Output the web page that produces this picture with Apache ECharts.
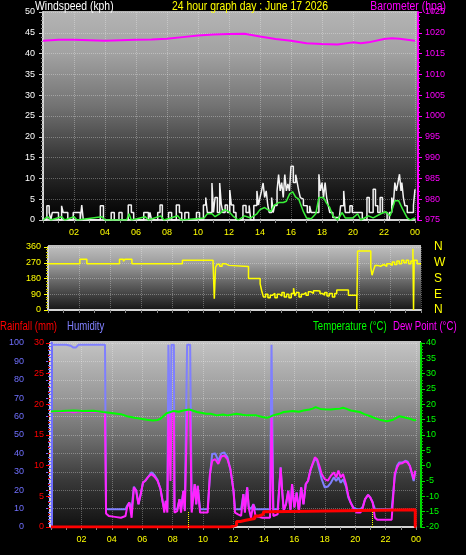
<!DOCTYPE html>
<html><head><meta charset="utf-8">
<script src="https://cdn.jsdelivr.net/npm/echarts@6/dist/echarts.min.js"></script>
<style>html,body{margin:0;padding:0;background:#000;}#c{width:466px;height:555px;}</style>
</head><body><div id="c"></div>
<script>
// ---------- tick labels ----------
const xLabels = ['02','04','06','08','10','12','14','16','18','20','22','00'];
const compassLabels = ['N','E','S','W','N'];

// ---------- top panel: wind (kph) & barometer (hPa) ----------
const windGust = [[0,0],[0.25,3.4],[0.4,1.8],[0.5,0],[0.6,1.8],[1.0,0],[1.2,3.4],[1.3,1.8],[1.6,0],[1.95,1.8],[2.4,0],[2.5,3.6],[2.6,0],[3.7,3.4],[3.9,0],[4.4,1.8],[4.6,0],[4.9,1.8],[5.1,0],[5.5,3.6],[5.7,1.8],[5.85,0],[6.5,1.8],[6.8,0],[6.9,1.8],[7.0,0],[7.4,1.8],[7.55,3.6],[7.7,0],[8.1,1.8],[8.3,0],[8.6,3.6],[8.8,1.8],[8.95,0],[9.15,1.8],[9.4,0],[9.9,1.8],[10.1,0],[10.35,3.6],[10.5,5.4],[10.6,1.8],[10.9,8.9],[11.0,1.8],[11.1,5.4],[11.25,1.8],[11.4,8.9],[11.5,3.8],[11.6,1.8],[11.75,3.6],[11.9,1.8],[12.05,7.2],[12.15,3.6],[12.3,1.8],[12.45,0],[12.9,3.5],[13.1,1.8],[13.3,3.5],[13.4,0],[13.6,3.5],[13.8,7],[13.9,3.6],[14.0,5.4],[14.1,7],[14.2,8.9],[14.3,5.4],[14.4,7],[14.5,3.6],[14.6,1.8],[14.75,5.4],[14.85,1.8],[14.95,3.5],[15.1,7],[15.2,10.9],[15.3,7],[15.4,9],[15.5,5.4],[15.6,10.9],[15.7,7],[15.8,8.7],[15.9,7],[16.0,12.9],[16.15,9],[16.3,10.9],[16.4,9],[16.5,7],[16.6,5.4],[16.7,5],[16.8,3.5],[16.9,3.4],[17.05,1.8],[17.2,3.4],[17.3,1.8],[17.8,11],[17.9,7],[18.0,9],[18.1,5.4],[18.2,9],[18.3,5.4],[18.4,3.5],[18.5,1.8],[18.7,0.6],[19.1,0],[19.2,3.4],[19.4,7],[19.5,1.8],[19.8,3.4],[19.95,1.8],[20.6,0],[20.9,5.4],[21.05,1.8],[21.3,7.4],[21.45,3.4],[21.6,1.8],[21.75,5.4],[21.9,1.8],[22.2,0],[22.35,1.8],[22.5,5.4],[22.6,3.5],[22.7,9],[22.8,7],[22.9,9],[23.0,11],[23.1,7],[23.15,9],[23.25,5.4],[23.35,3.4],[23.5,1.8],[23.9,3.5],[24.0,7.4]];
const windAvg = [[0,0],[0.3,0.8],[0.5,0],[1.2,0.8],[1.4,0],[2.0,0.8],[2.2,0],[3.8,0.8],[4.0,0],[5.4,0],[5.55,1.5],[5.7,0],[6.6,0.8],[6.8,0],[7.6,1.0],[7.8,0],[8.7,1.0],[8.9,0],[10.4,0.5],[10.6,1.5],[10.9,1.5],[11.1,0.8],[11.4,1.5],[11.7,2.5],[12.0,2],[12.3,0.8],[12.6,0],[13.0,1],[13.4,0.5],[13.8,1.5],[14.0,2.5],[14.3,3],[14.5,2.5],[14.7,2],[14.9,3.5],[15.2,4.2],[15.5,4.2],[15.7,4.5],[15.9,6.2],[16.1,6.8],[16.3,5.5],[16.5,5],[16.6,4.6],[16.8,2],[17.0,0.5],[17.3,0.3],[17.6,1.5],[17.8,5.4],[18.1,5.4],[18.3,4],[18.5,3],[18.7,1],[19.0,0],[19.3,1.8],[19.5,0.5],[20.0,0.5],[20.3,1.5],[20.5,0],[21.0,1],[21.3,0.5],[21.8,1.5],[22.1,2],[22.4,1],[22.7,4.6],[22.95,4.6],[23.2,2.6],[23.5,0.5],[23.7,0],[24.0,0.5]];
const barometer = [[0,1018.1],[1,1018.3],[2,1018.3],[3,1018.2],[4,1018.1],[5,1018.2],[6,1018.3],[7,1018.4],[8,1018.55],[9,1018.96],[10,1019.35],[11,1019.6],[12,1019.7],[13,1019.75],[14,1019.1],[15,1018.5],[16,1018.1],[17,1017.5],[18,1017.3],[19,1017.2],[20,1017.7],[20.5,1017.5],[21,1017.7],[22,1018.5],[22.5,1018.7],[23,1018.55],[24,1018.1]];

// ---------- middle panel: wind direction (deg) ----------
const windDir = [[0,265],[2.05,290],[2.5,265],[4.6,290],[4.85,278],[4.95,290],[5.4,265],[8.65,285],[10.62,272],[10.7,65],[10.78,245],[10.9,262],[11.05,250],[11.2,265],[11.4,255],[11.65,248],[12.9,180],[13.65,150],[13.75,110],[13.86,75],[14.0,90],[14.15,70],[14.3,85],[14.45,95],[14.6,70],[14.75,90],[14.9,80],[15.05,100],[15.2,75],[15.35,90],[15.5,70],[15.65,95],[15.8,125],[15.88,80],[16.0,100],[16.15,75],[16.3,90],[16.45,100],[16.6,85],[16.75,105],[16.9,95],[17.08,110],[17.3,108],[17.5,95],[17.65,85],[17.8,100],[17.95,80],[18.1,95],[18.3,75],[18.45,95],[18.58,114],[19.33,85],[19.87,0],[19.92,337],[20.77,245],[20.85,199],[20.95,230],[21.05,255],[21.2,250],[21.4,260],[21.6,250],[21.8,265],[22.0,255],[22.15,275],[22.3,260],[22.45,280],[22.6,265],[22.75,285],[22.9,270],[23.05,285],[23.2,265],[23.35,280],[23.48,350],[23.52,0],[23.56,285],[23.75,265],[24,265]];

// ---------- bottom panel ----------
const temperature = [[0,17.7],[0.7,17.8],[1.5,18.0],[2.1,17.8],[2.8,17.9],[3.4,17.5],[4.1,17.1],[4.6,16.8],[5.0,16.1],[5.5,15.6],[5.9,15.3],[6.3,15.0],[6.7,14.75],[7.0,14.9],[7.2,15.3],[7.4,16.2],[7.6,17.1],[8.05,17.8],[8.4,17.6],[8.7,18.0],[9.1,18.3],[9.6,17.5],[10.2,16.9],[10.5,16.9],[10.9,16.4],[11.3,16.7],[11.6,16.4],[12.2,16.9],[12.6,16.6],[12.9,16.4],[13.5,16.4],[13.9,15.9],[14.2,15.6],[14.4,15.9],[14.6,16.4],[15.0,16.9],[15.3,17.5],[15.9,17.8],[16.3,17.6],[16.6,18.0],[17.0,18.3],[17.2,18.6],[17.4,19.1],[17.7,18.5],[18.0,18.4],[18.4,18.3],[18.7,18.5],[19.0,18.6],[19.2,18.9],[19.4,18.6],[19.7,18.0],[20.3,17.5],[20.6,16.8],[21.0,16.1],[21.3,15.5],[21.6,15.0],[22.1,14.5],[22.5,15.0],[22.9,16.1],[23.2,15.8],[23.6,15.3],[23.9,14.75],[24.0,15.0]];
const dewPoint = [[0,17.5],[0.5,17.6],[1.0,17.7],[1.3,17.6],[1.45,17.4],[1.65,17.5],[1.8,17.7],[2.5,17.6],[3.0,17.6],[3.55,17.3],[3.62,-15.6],[3.8,-16.4],[4.2,-16.7],[4.6,-17.0],[4.9,-16.4],[5.0,-13.7],[5.15,-12.0],[5.3,-17.0],[5.45,-7.1],[5.6,-8.2],[5.75,-12.6],[5.9,-9.3],[6.05,-5.5],[6.2,-4.9],[6.4,-3.6],[6.6,-2.7],[6.8,-3.6],[7.0,-4.9],[7.2,-7.6],[7.35,-12.0],[7.45,-15.3],[7.55,-11.5],[7.65,-15.3],[7.72,16.8],[7.8,16.9],[7.86,-5],[7.92,17.2],[8.08,17.6],[8.12,-15.3],[8.3,-14.8],[8.45,-10.9],[8.55,-15.3],[8.7,-8.2],[8.8,-14.8],[8.95,18.1],[9.15,18.2],[9.25,-15.3],[9.45,-6.0],[9.55,-12.6],[9.65,-6.6],[9.8,-15.3],[10.3,-15.3],[10.45,-2.7],[10.6,1.6],[10.8,2.1],[11.0,0.6],[11.2,3.0],[11.4,3.3],[11.6,2.1],[11.8,-1.1],[12.0,-8.2],[12.1,-15.3],[12.3,-15.9],[12.5,-16.4],[12.65,-9.3],[12.75,-15.3],[12.9,-7.1],[13.0,-13.7],[13.15,-17.0],[13.3,-12.6],[13.45,-16.4],[13.9,-17.0],[14.4,-17.0],[14.5,16.2],[14.58,16.3],[14.62,-16.4],[14.9,-15.9],[15.1,-0.6],[15.2,-8.2],[15.3,-14.8],[15.45,-12.6],[15.6,-8.2],[15.75,-14.8],[15.85,-6.0],[16.0,-13.7],[16.15,-8.8],[16.3,-15.3],[16.45,-7.1],[16.6,-12.6],[16.75,-6.0],[16.9,-4.9],[17.05,-1.6],[17.2,0.6],[17.35,2.7],[17.5,2.1],[17.65,-0.1],[17.8,-2.7],[18.0,-4.4],[18.2,-4.9],[18.4,-3.3],[18.6,-2.2],[18.75,-3.8],[18.9,-1.6],[19.05,-3.8],[19.2,-2.7],[19.4,-6.0],[19.55,-9.8],[19.7,-12.0],[19.9,-14.2],[20.1,-15.3],[20.35,-15.3],[20.5,-13.7],[20.65,-10.9],[20.85,-9.5],[21.0,-10.4],[21.15,-12.0],[21.3,-17.0],[21.45,-17.6],[22.4,-17.6],[22.6,-2.7],[22.75,-0.6],[22.9,0.6],[23.1,0.8],[23.3,1.4],[23.45,1.0],[23.6,-0.1],[23.75,-2.7],[23.85,-4.4],[23.95,-1.6]];
const humidity = [[0,99],[0.5,99],[1.0,99],[1.3,98.5],[1.45,97.6],[1.65,97.6],[1.8,99],[2.5,99],[3.0,99],[3.55,99],[3.62,9.8],[3.8,9.7],[4.2,9.7],[4.6,9.7],[4.9,9.7],[5.0,11.5],[5.15,13.3],[5.3,9.7],[5.45,21.9],[5.6,20],[5.75,12.4],[5.9,17.9],[6.05,24.2],[6.2,25.1],[6.4,27.3],[6.6,29.7],[6.8,28.2],[7.0,25.6],[7.2,20.6],[7.35,13.3],[7.45,9.7],[7.55,14.2],[7.65,9.7],[7.72,99],[7.8,99],[7.86,40],[7.92,99],[8.08,99],[8.12,9.7],[8.3,9.7],[8.45,15.1],[8.55,9.7],[8.7,19.7],[8.8,9.7],[8.95,99],[9.15,99],[9.25,9.7],[9.45,23.3],[9.55,12.4],[9.65,22.4],[9.8,9.7],[10.3,9.7],[10.45,28],[10.6,39.7],[10.8,40],[11.0,36],[11.2,40],[11.4,40.5],[11.6,38],[11.8,31],[12.0,20],[12.1,9.7],[12.3,9.7],[12.5,9.7],[12.65,17.9],[12.75,9.7],[12.9,21.5],[13.0,11],[13.15,9.7],[13.3,12.4],[13.45,9.7],[13.9,9.7],[14.4,9.7],[14.5,99],[14.58,99],[14.62,9.7],[14.9,9.7],[15.1,32.4],[15.2,19.7],[15.3,9.7],[15.45,12.4],[15.6,19.7],[15.75,9.7],[15.85,23.3],[16.0,11],[16.15,18.8],[16.3,9.7],[16.45,21.5],[16.6,12.4],[16.75,23.3],[16.9,25],[17.05,30.6],[17.2,34],[17.35,37],[17.5,36],[17.65,31],[17.8,26],[18.0,21.5],[18.2,22],[18.4,24],[18.6,27],[18.75,25],[18.9,27],[19.05,24],[19.2,26],[19.4,22],[19.55,16],[19.7,13.3],[19.9,10.5],[20.1,9.7],[20.35,9.7],[20.5,11],[20.65,15],[20.85,17.5],[21.0,16],[21.15,13.3],[21.3,9.7],[21.45,9.7],[22.4,9.7],[22.6,27],[22.75,33.3],[22.9,35.1],[23.1,35],[23.3,36],[23.45,35.5],[23.6,33],[23.75,28],[23.85,25],[23.95,30]];
const rainfall = [[0,0],[11.8,0.3],[12.2,0.9],[12.45,1.1],[12.8,1.4],[13.4,1.8],[13.7,2.1],[13.97,2.5],[14.4,2.8],[23.95,0],[24,0]];
const markerTimes = [9.0, 21.1];
const markerTop = 2.6;

// ---------- styling ----------
const LFONT = '"Liberation Sans", Arial, sans-serif';
const NARROW = 0.8;
const gridLine = {show:true, lineStyle:{color:'rgba(255,255,255,0.3)', type:'dotted', width:1}};
const frame = {show:true, lineStyle:{color:'#d4d4d4', width:2}};

function grad(stops){ return {type:'linear', x:0, y:0, x2:0, y2:1, colorStops: stops.map(s=>({offset:s[0], color:s[1]}))}; }
function label(text, x, y, color, size, align){
  return {type:'text', x:x, y:y, scaleX:NARROW, silent:true,
    style:{text:text, fill:color, font: size+'px '+LFONT, align:align||'left', verticalAlign:'middle'}};
}

function xAxisFor(gi, showLabels){
  return {
    gridIndex: gi, type:'value', min:0, max:24, interval:2,
    axisLine: frame,
    axisTick: {show:true, length:3, lineStyle:{color:'#8a8a8a'}},
    minorTick: {show:true, splitNumber:2, length:3, lineStyle:{color:'#8a8a8a'}},
    axisLabel: {show:showLabels, color:'#ffff00', fontSize:9, fontFamily:LFONT, margin:8,
      formatter: v => v > 0 ? xLabels[Math.round(v/2)-1] : ''},
    splitLine: gridLine
  };
}

function lineSeries(xi, yi, data, color, width, extra){
  return Object.assign({type:'line', xAxisIndex:xi, yAxisIndex:yi, data:data, showSymbol:false, symbol:'none',
    lineStyle:{color:color, width:width}, itemStyle:{color:color}, animation:false}, extra||{});
}

const option = {
  backgroundColor:'#000000',
  animation:false,
  grid:[
    {left:43, top:12, width:372, height:208},
    {left:48, top:247, width:373, height:63},
    {left:51, top:343, width:365, height:184}
  ],
  graphic:[
    {type:'rect', z:-10, silent:true, shape:{x:43, y:11, width:375, height:210},
      style:{fill: grad([[0,'#b4b4b4'],[0.2,'#a2a2a2'],[0.45,'#737373'],[0.7,'#363636'],[0.9,'#101010'],[1,'#000000']])}},
    {type:'rect', z:-10, silent:true, shape:{x:48, y:245, width:373, height:66},
      style:{fill: grad([[0,'#c0c0c0'],[0.3,'#9a9a9a'],[0.6,'#5e5e5e'],[1,'#141414']])}},
    {type:'rect', z:-10, silent:true, shape:{x:50, y:341, width:371, height:187},
      style:{fill: grad([[0,'#c4c4c4'],[0.3,'#989898'],[0.55,'#666666'],[0.75,'#383838'],[1,'#101010']])}},
    label('Windspeed (kph)', 35, 6, '#ffffff', 13),
    label('24 hour graph day : June 17 2026', 172, 6, '#ffff00', 13),
    label('Barometer (hpa)', 446, 6, '#ff00ff', 13, 'right'),
    label('Rainfall (mm)', 0, 327, '#ff0000', 12),
    label('Humidity', 67, 327, '#8080ff', 12),
    label('Temperature (°C)', 313, 327, '#00ff00', 12),
    label('Dew Point (°C)', 393, 327, '#ff00ff', 12)
  ],
  xAxis:[ xAxisFor(0,true), xAxisFor(1,false), xAxisFor(2,true) ],
  yAxis:[
    {gridIndex:0, type:'value', position:'left', min:0, max:50, interval:5,
      axisLine: frame, axisTick:{show:true, length:4, lineStyle:{color:'#c8c8c8'}},
      minorTick:{show:true, splitNumber:5, length:2, lineStyle:{color:'#909090'}},
      axisLabel:{color:'#ffffff', fontSize:9, fontFamily:LFONT, margin:8}, splitLine: gridLine},
    {gridIndex:0, type:'value', position:'right', offset:3, min:975, max:1025, interval:5,
      axisLine:{show:true, lineStyle:{color:'#ff00ff', width:2}}, axisTick:{show:true, length:4, lineStyle:{color:'#ff00ff'}},
      minorTick:{show:true, splitNumber:5, length:2, lineStyle:{color:'#ff00ff'}},
      axisLabel:{color:'#ff00ff', fontSize:9, fontFamily:LFONT, margin:7, formatter: v => String(v)}, splitLine:{show:false}},
    {gridIndex:1, type:'value', position:'left', min:0, max:360, interval:90,
      axisLine: frame, axisTick:{show:true, length:4, lineStyle:{color:'#ffff00'}},
      minorTick:{show:true, splitNumber:6, length:2, lineStyle:{color:'#c8c800'}},
      axisLabel:{color:'#ffff00', fontSize:9, fontFamily:LFONT, margin:7}, splitLine: gridLine},
    {gridIndex:1, type:'value', position:'right', min:0, max:360, interval:90,
      axisLine:{show:false}, axisTick:{show:false},
      axisLabel:{color:'#ffff00', fontSize:12, fontFamily:LFONT, margin:13, formatter: v => compassLabels[Math.round(v/90)]},
      splitLine:{show:false}},
    {gridIndex:2, type:'value', position:'left', offset:21, min:0, max:100, interval:10,
      axisLine:{show:true, lineStyle:{color:'#7070ff', width:3}}, axisTick:{show:true, length:5, lineStyle:{color:'#7070ff'}},
      minorTick:{show:true, splitNumber:5, length:3, lineStyle:{color:'#7070ff'}},
      axisLabel:{color:'#7070ff', fontSize:9, fontFamily:LFONT, margin:6}, splitLine: gridLine},
    {gridIndex:2, type:'value', position:'left', offset:1, min:0, max:30, interval:5,
      axisLine: frame, axisTick:{show:true, length:4, lineStyle:{color:'#ff0000'}},
      minorTick:{show:true, splitNumber:5, length:2, lineStyle:{color:'#d00000'}},
      axisLabel:{color:'#ff0000', fontSize:9, fontFamily:LFONT, margin:6}, splitLine:{show:false}},
    {gridIndex:2, type:'value', position:'right', offset:5, min:-20, max:40, interval:5,
      axisLine:{show:true, lineStyle:{color:'#00e000', width:2}}, axisTick:{show:true, length:4, lineStyle:{color:'#00e000'}},
      minorTick:{show:true, splitNumber:5, length:2, lineStyle:{color:'#00c000'}},
      axisLabel:{color:'#00ff00', fontSize:9, fontFamily:LFONT, margin:5}, splitLine:{show:false}}
  ],
  series:[
    lineSeries(0,1,barometer,'#ff00ff',2),
    lineSeries(0,0,windGust,'#f2f2f2',1.5,{step:'end'}),
    lineSeries(0,0,windAvg,'#38f038',1.5),
    lineSeries(1,2,windDir,'#ffff00',1.5,{step:'end'}),
    lineSeries(2,4,humidity,'#7f7fff',2),
    lineSeries(2,6,dewPoint,'#ff22ff',2),
    lineSeries(2,6,temperature,'#00ff00',2),
    lineSeries(2,5,rainfall,'#ff0000',3,{step:'end',
      markLine:{symbol:'none', silent:true, label:{show:false}, animation:false,
        lineStyle:{color:'#ffff00', type:'dotted', width:1},
        data: markerTimes.map(t => [{coord:[t,0]},{coord:[t,markerTop]}])}})
  ]
};

const chart = echarts.init(document.getElementById('c'), null, {renderer:'canvas'});
chart.setOption(option);
</script></body></html>
